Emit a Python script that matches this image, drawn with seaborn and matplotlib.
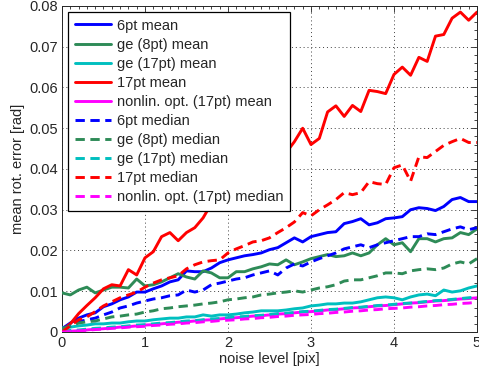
import numpy as np
import pandas as pd
import matplotlib
matplotlib.use("Agg")
import matplotlib.pyplot as plt
from matplotlib.ticker import MultipleLocator
import seaborn as sns

noise = [round(0.1 * i, 1) for i in range(51)]

mean_6pt = [0.0008, 0.0022, 0.0034, 0.0042, 0.0047, 0.0062, 0.0069, 0.0079, 0.0086, 0.0098,
            0.0098, 0.0106, 0.0113, 0.0123, 0.0128, 0.0150, 0.0148, 0.0148, 0.0157, 0.0170,
            0.0177, 0.0182, 0.0187, 0.0190, 0.0194, 0.0202, 0.0207, 0.0219, 0.0231, 0.0221,
            0.0234, 0.0239, 0.0244, 0.0246, 0.0266, 0.0271, 0.0278, 0.0263, 0.0268, 0.0278,
            0.0280, 0.0283, 0.0300, 0.0305, 0.0303, 0.0298, 0.0308, 0.0325, 0.0330, 0.0320,
            0.0320]
mean_ge8 = [0.0096, 0.0091, 0.0103, 0.0110, 0.0096, 0.0103, 0.0110, 0.0110, 0.0108, 0.0130,
            0.0113, 0.0116, 0.0123, 0.0133, 0.0143, 0.0135, 0.0130, 0.0150, 0.0145, 0.0133,
            0.0133, 0.0148, 0.0148, 0.0155, 0.0160, 0.0167, 0.0165, 0.0177, 0.0165, 0.0172,
            0.0180, 0.0185, 0.0190, 0.0185, 0.0187, 0.0194, 0.0187, 0.0194, 0.0214, 0.0229,
            0.0214, 0.0219, 0.0197, 0.0229, 0.0229, 0.0221, 0.0229, 0.0231, 0.0244, 0.0239,
            0.0253]
mean_ge17 = [0.0010, 0.0012, 0.0015, 0.0017, 0.0020, 0.0020, 0.0022, 0.0022, 0.0025, 0.0027,
             0.0027, 0.0030, 0.0032, 0.0034, 0.0034, 0.0037, 0.0037, 0.0042, 0.0039, 0.0042,
             0.0042, 0.0044, 0.0047, 0.0049, 0.0052, 0.0052, 0.0052, 0.0054, 0.0057, 0.0059,
             0.0064, 0.0066, 0.0069, 0.0069, 0.0071, 0.0071, 0.0074, 0.0079, 0.0084, 0.0086,
             0.0084, 0.0079, 0.0086, 0.0091, 0.0093, 0.0089, 0.0103, 0.0098, 0.0101, 0.0108,
             0.0113]
mean_17pt = [0.0005, 0.0020, 0.0045, 0.0065, 0.0084, 0.0106, 0.0116, 0.0113, 0.0153, 0.0140,
             0.0182, 0.0197, 0.0234, 0.0244, 0.0224, 0.0244, 0.0256, 0.0280, 0.0315, 0.0310,
             0.0325, 0.0340, 0.0360, 0.0370, 0.0390, 0.0410, 0.0420, 0.0440, 0.0467, 0.0500,
             0.0460, 0.0475, 0.0540, 0.0555, 0.0529, 0.0556, 0.0541, 0.0593, 0.0590, 0.0585,
             0.0632, 0.0650, 0.0630, 0.0674, 0.0664, 0.0726, 0.0730, 0.0770, 0.0785, 0.0765,
             0.0785]
mean_nonlin = [0.0000, 0.0002, 0.0003, 0.0005, 0.0007, 0.0008, 0.0010, 0.0012, 0.0013, 0.0015,
               0.0017, 0.0018, 0.0020, 0.0022, 0.0024, 0.0025, 0.0027, 0.0029, 0.0030, 0.0032,
               0.0034, 0.0035, 0.0037, 0.0039, 0.0040, 0.0042, 0.0044, 0.0045, 0.0047, 0.0049,
               0.0050, 0.0052, 0.0054, 0.0055, 0.0057, 0.0059, 0.0060, 0.0062, 0.0064, 0.0065,
               0.0067, 0.0069, 0.0071, 0.0072, 0.0074, 0.0076, 0.0077, 0.0079, 0.0081, 0.0082,
               0.0084]

median_6pt = [0.0008, 0.0015, 0.0025, 0.0030, 0.0034, 0.0042, 0.0049, 0.0059, 0.0064, 0.0071,
              0.0076, 0.0081, 0.0084, 0.0089, 0.0091, 0.0103, 0.0098, 0.0103, 0.0116, 0.0120,
              0.0125, 0.0130, 0.0133, 0.0140, 0.0145, 0.0150, 0.0140, 0.0157, 0.0167, 0.0162,
              0.0172, 0.0180, 0.0187, 0.0194, 0.0204, 0.0209, 0.0214, 0.0207, 0.0214, 0.0219,
              0.0224, 0.0229, 0.0234, 0.0234, 0.0241, 0.0239, 0.0246, 0.0253, 0.0258, 0.0251,
              0.0256]
median_ge8 = [0.0008, 0.0015, 0.0022, 0.0025, 0.0027, 0.0032, 0.0037, 0.0039, 0.0042, 0.0044,
              0.0049, 0.0052, 0.0057, 0.0059, 0.0062, 0.0064, 0.0066, 0.0069, 0.0071, 0.0074,
              0.0079, 0.0081, 0.0084, 0.0086, 0.0091, 0.0093, 0.0096, 0.0098, 0.0101, 0.0098,
              0.0103, 0.0108, 0.0111, 0.0116, 0.0125, 0.0128, 0.0128, 0.0133, 0.0138, 0.0145,
              0.0145, 0.0143, 0.0150, 0.0153, 0.0155, 0.0153, 0.0157, 0.0167, 0.0172, 0.0167,
              0.0180]
median_ge17 = [0.0002, 0.0004, 0.0005, 0.0007, 0.0009, 0.0010, 0.0012, 0.0013, 0.0015, 0.0017,
               0.0018, 0.0020, 0.0022, 0.0023, 0.0025, 0.0027, 0.0028, 0.0030, 0.0032, 0.0033,
               0.0035, 0.0037, 0.0038, 0.0040, 0.0041, 0.0043, 0.0045, 0.0046, 0.0048, 0.0050,
               0.0051, 0.0053, 0.0055, 0.0056, 0.0058, 0.0060, 0.0061, 0.0063, 0.0065, 0.0066,
               0.0068, 0.0070, 0.0071, 0.0073, 0.0075, 0.0077, 0.0078, 0.0080, 0.0082, 0.0084,
               0.0086]
median_17pt = [0.0000, 0.0015, 0.0030, 0.0037, 0.0050, 0.0064, 0.0074, 0.0084, 0.0091, 0.0098,
               0.0110, 0.0120, 0.0128, 0.0133, 0.0138, 0.0155, 0.0165, 0.0172, 0.0175, 0.0177,
               0.0194, 0.0204, 0.0212, 0.0221, 0.0224, 0.0231, 0.0244, 0.0256, 0.0270, 0.0293,
               0.0285, 0.0300, 0.0312, 0.0325, 0.0342, 0.0337, 0.0342, 0.0369, 0.0364, 0.0362,
               0.0403, 0.0410, 0.0370, 0.0430, 0.0428, 0.0443, 0.0458, 0.0467, 0.0475, 0.0465,
               0.0465]
median_nonlin = [0.0000, 0.0001, 0.0003, 0.0004, 0.0006, 0.0007, 0.0009, 0.0010, 0.0012, 0.0013,
                 0.0014, 0.0016, 0.0017, 0.0019, 0.0020, 0.0022, 0.0023, 0.0025, 0.0026, 0.0028,
                 0.0029, 0.0030, 0.0032, 0.0033, 0.0035, 0.0036, 0.0038, 0.0039, 0.0041, 0.0042,
                 0.0043, 0.0045, 0.0046, 0.0048, 0.0049, 0.0051, 0.0052, 0.0054, 0.0055, 0.0057,
                 0.0058, 0.0059, 0.0061, 0.0062, 0.0064, 0.0065, 0.0067, 0.0068, 0.0070, 0.0071,
                 0.0073]

labels = ["6pt mean", "ge (8pt) mean", "ge (17pt) mean", "17pt mean", "nonlin. opt. (17pt) mean",
          "6pt median", "ge (8pt) median", "ge (17pt) median", "17pt median",
          "nonlin. opt. (17pt) median"]
series = [mean_6pt, mean_ge8, mean_ge17, mean_17pt, mean_nonlin,
          median_6pt, median_ge8, median_ge17, median_17pt, median_nonlin]
colors = ["#0000FF", "#2E8B57", "#00BFBF", "#FF0000", "#FF00FF"] * 2
dashed = [False] * 5 + [True] * 5

sns.set_style("white")
plt.rcParams["font.family"] = ["Liberation Sans", "DejaVu Sans"]

fig = plt.figure(figsize=(4.79, 3.74), dpi=100)
ax = fig.add_axes([0.1294, 0.1123, 0.8664, 0.8717])

for lab, vals, col, dsh in zip(labels, series, colors, dashed):
    df = pd.DataFrame({"noise": noise, "err": vals})
    sns.lineplot(data=df, x="noise", y="err", ax=ax, color=col, linewidth=2.1,
                 linestyle=(0, (3.2, 1.9)) if dsh else "-", label=lab, zorder=3)

ax.set_xlim(0, 5)
ax.set_ylim(0, 0.08)
ax.xaxis.set_major_locator(MultipleLocator(1))
ax.xaxis.set_minor_locator(MultipleLocator(0.1))
ax.yaxis.set_major_locator(MultipleLocator(0.01))
ax.yaxis.set_minor_locator(MultipleLocator(0.002))
ax.set_yticklabels(["0" if abs(v) < 1e-9 else f"{v:.2f}" for v in ax.get_yticks()])
ax.tick_params(which="both", direction="in", top=True, right=True, labelsize=10.5,
               color="#262626", width=0.6)
ax.tick_params(which="major", length=4, pad=3)
ax.tick_params(which="minor", length=2)
ax.grid(True, which="major", linestyle=(0, (1, 3)), color="#404040", linewidth=0.7)
for sp in ax.spines.values():
    sp.set_visible(True)
    sp.set_color("#262626")
    sp.set_linewidth(0.7)

ax.set_xlabel("noise level [pix]", fontsize=10.5, labelpad=1)
ax.set_ylabel("mean rot. error [rad]", fontsize=10.5, labelpad=3)

leg = ax.legend(loc="upper left", bbox_to_anchor=(0.0145, 0.9816), fontsize=10.5,
                frameon=True, fancybox=False, framealpha=1, edgecolor="black",
                handlelength=2.5, handletextpad=0.4, labelspacing=0.35,
                borderpad=0.45, borderaxespad=0.0)
leg.get_frame().set_linewidth(0.9)
leg.set_zorder(10)

fig.savefig("out.png", dpi=100)
